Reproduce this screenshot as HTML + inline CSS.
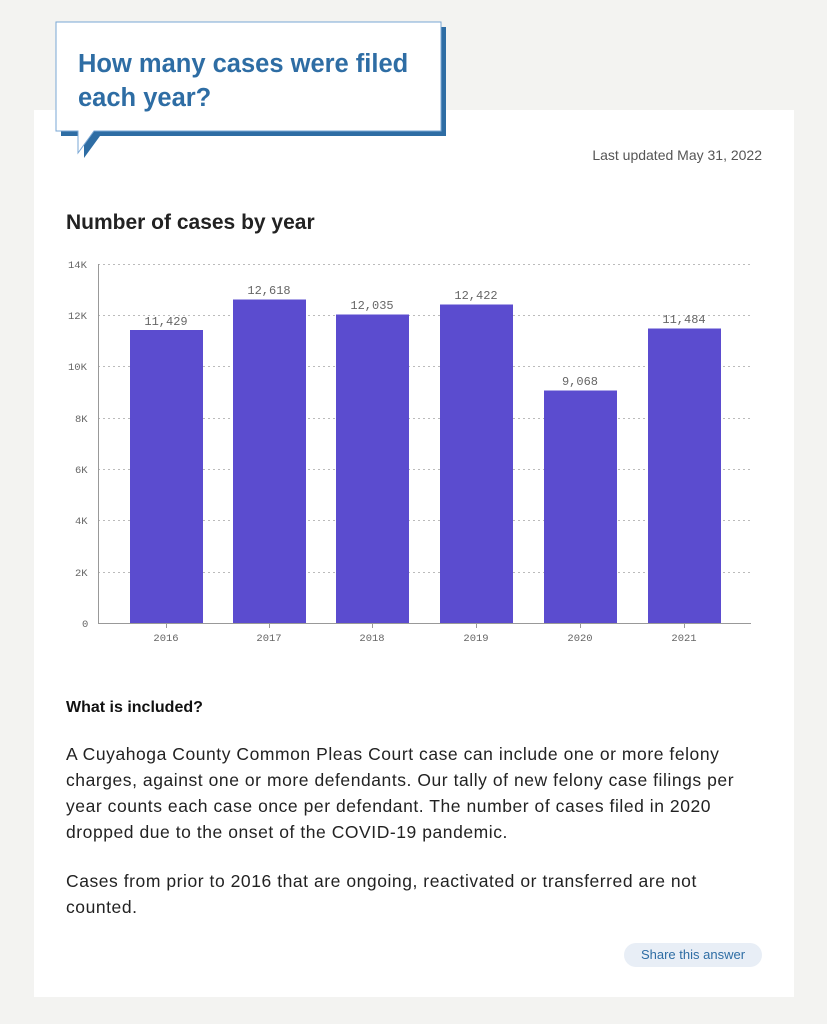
<!DOCTYPE html>
<html><head><style>
body{margin:0;width:827px;height:1024px;background:#f3f3f1;position:relative;overflow:hidden;font-family:"Liberation Sans",sans-serif}
.card{position:absolute;left:34px;top:110px;width:760px;height:887px;background:#fff}
.t{position:absolute;white-space:nowrap}
</style></head><body>
<div class="card"></div>
<svg style="position:absolute;left:0;top:0" width="827" height="1024">
<polygon points="61,27 446,27 446,136 100,136 84,158 84,136 61,136" fill="#2e6da4"/>
<polygon points="56,22 441,22 441,131 94,131 78,153 78,131 56,131" fill="#fff" stroke="#7aa7d4" stroke-width="1"/>
<text x="78" y="72" font-family="Liberation Sans" font-weight="bold" font-size="25.5" fill="#2e6da4">How many cases were filed</text>
<text x="78" y="106" font-family="Liberation Sans" font-weight="bold" font-size="25.5" fill="#2e6da4">each year?</text>
<text x="762" y="160" text-anchor="end" font-family="Liberation Sans" font-size="14" fill="#555">Last updated May 31, 2022</text>
<text x="66" y="229" font-family="Liberation Sans" font-weight="bold" font-size="21" fill="#222">Number of cases by year</text>
<g stroke="#bbb" stroke-dasharray="2,3" stroke-width="1">
<line x1="98" x2="751" y1="264.5" y2="264.5"/><line x1="98" x2="751" y1="315.5" y2="315.5"/><line x1="98" x2="751" y1="366.5" y2="366.5"/><line x1="98" x2="751" y1="418.5" y2="418.5"/><line x1="98" x2="751" y1="469.5" y2="469.5"/><line x1="98" x2="751" y1="520.5" y2="520.5"/><line x1="98" x2="751" y1="572.5" y2="572.5"/>
</g>
<g font-family="Liberation Mono" font-size="10.5" fill="#666">
<text x="68" y="268">14K</text><text x="68" y="319">12K</text><text x="68" y="370">10K</text><text x="75" y="422">8K</text><text x="75" y="473">6K</text><text x="75" y="524">4K</text><text x="75" y="576">2K</text><text x="82" y="627">0</text>
</g>
<g fill="#5b4ccf">
<rect x="130" y="330" width="73" height="293"/>
<rect x="233" y="299.5" width="73" height="323.5"/>
<rect x="336" y="314.5" width="73" height="308.5"/>
<rect x="440" y="304.5" width="73" height="318.5"/>
<rect x="544" y="390.5" width="73" height="232.5"/>
<rect x="648" y="328.5" width="73" height="294.5"/>
</g>
<line x1="98.5" x2="98.5" y1="264" y2="623" stroke="#999"/>
<line x1="98" x2="751" y1="623.5" y2="623.5" stroke="#999"/>
<g stroke="#999"><line x1="166.5" x2="166.5" y1="623" y2="628"/><line x1="269.5" x2="269.5" y1="623" y2="628"/><line x1="372.5" x2="372.5" y1="623" y2="628"/><line x1="476.5" x2="476.5" y1="623" y2="628"/><line x1="580.5" x2="580.5" y1="623" y2="628"/><line x1="684.5" x2="684.5" y1="623" y2="628"/></g>
<g font-family="Liberation Mono" font-size="12" fill="#666" text-anchor="middle">
<text x="166" y="325">11,429</text><text x="269" y="294">12,618</text><text x="372" y="309">12,035</text><text x="476" y="299">12,422</text><text x="580" y="385">9,068</text><text x="684" y="323">11,484</text>
</g>
<g font-family="Liberation Mono" font-size="10.5" fill="#666" text-anchor="middle">
<text x="166" y="641">2016</text><text x="269" y="641">2017</text><text x="372" y="641">2018</text><text x="476" y="641">2019</text><text x="580" y="641">2020</text><text x="684" y="641">2021</text>
</g>
</svg>
<div class="t" style="left:66px;top:699px;font-weight:bold;font-size:16px;color:#111">What is included?</div>
<div class="t" style="left:66px;top:741px;font-size:17.5px;letter-spacing:0.55px;line-height:26px;color:#222">A Cuyahoga County Common Pleas Court case can include one or more felony<br>charges, against one or more defendants. Our tally of new felony case filings per<br>year counts each case once per defendant. The number of cases filed in 2020<br>dropped due to the onset of the COVID-19 pandemic.</div>
<div class="t" style="left:66px;top:868px;font-size:17.5px;letter-spacing:0.55px;line-height:26px;color:#222">Cases from prior to 2016 that are ongoing, reactivated or transferred are not<br>counted.</div>
<div class="t" style="left:624px;top:943px;width:138px;height:24px;border-radius:12px;background:#e8eef6;color:#2e6da4;font-size:13px;line-height:24px;text-align:center">Share this answer</div>
</body></html>
